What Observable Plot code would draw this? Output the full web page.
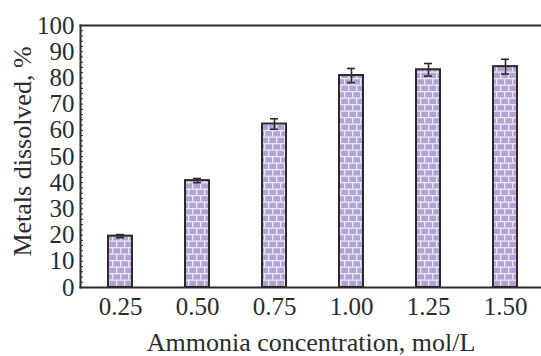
<!DOCTYPE html>
<html>
<head>
<meta charset="utf-8">
<script src="https://cdn.jsdelivr.net/npm/d3@7"></script>
<script src="https://cdn.jsdelivr.net/npm/@observablehq/plot@0.6"></script>
<style>
  html, body { margin: 0; padding: 0; background: #fff; }
  svg text { font-family: "Liberation Serif", "Times New Roman", Times, serif; }
</style>
</head>
<body>
<div id="chart"></div>
<script>
// Ammonia concentration (mol/L) and metals dissolved (%), with error margins
const concentrations = ["0.25", "0.50", "0.75", "1.00", "1.25", "1.50"];
const dissolved = [19.6, 40.8, 62.4, 80.9, 83.1, 84.3];
const errors = [0.6, 0.8, 2.0, 2.7, 2.4, 2.8];
const yTicks = [0, 10, 20, 30, 40, 50, 60, 70, 80, 90, 100];
const yMinorTicks = d3.range(0, 101, 2);

const data = concentrations.map((c, i) => ({conc: c, value: dissolved[i], err: errors[i]}));

const ink = "#2b2b2b";
const font = "Liberation Serif";

const chart = Plot.plot({
  width: 541,
  height: 356,
  marginLeft: 80,
  marginRight: 0,
  marginTop: 25,
  marginBottom: 69,
  style: {fontFamily: font, color: ink, background: "#fff"},
  x: {type: "band", domain: concentrations, range: [51.7, 572.9], padding: 0.69},
  y: {domain: [0, 100], ticks: yTicks},
  marks: [
    Plot.barY(data, {x: "conc", y: "value", fill: "url(#bricks)", stroke: ink, strokeWidth: 2}),
    Plot.ruleX(data, {x: "conc", y1: d => d.value - d.err, y2: d => d.value + d.err, stroke: ink, strokeWidth: 1.6}),
    Plot.tickY(data, {x: "conc", y: d => d.value + d.err, insetLeft: 8, insetRight: 8, stroke: ink, strokeWidth: 1.6}),
    Plot.tickY(data, {x: "conc", y: d => d.value - d.err, insetLeft: 8, insetRight: 8, stroke: ink, strokeWidth: 1.6}),
    // inward minor ticks on the left axis
    Plot.ruleY(yMinorTicks, {insetRight: 458, stroke: ink, strokeWidth: 1}),
    Plot.frame({anchor: "left", stroke: ink, strokeWidth: 2}),
    Plot.frame({anchor: "bottom", stroke: ink, strokeWidth: 2}),
    Plot.frame({anchor: "top", stroke: ink, strokeWidth: 2}),
    Plot.axisY(yTicks, {tickSize: 0, tickPadding: 6, fontSize: 25, fontFamily: font, label: null, fill: ink}),
    Plot.axisX({tickSize: 0, tickPadding: 10, fontSize: 25, fontFamily: font, label: null, fill: ink}),
    Plot.text(["Ammonia concentration, mol/L"], {frameAnchor: "bottom", dy: 63, fontSize: 26, fontFamily: font, fill: ink}),
    Plot.text(["Metals dissolved, %"], {frameAnchor: "left", textAnchor: "middle", rotate: -90, dx: -58, dy: -5, fontSize: 26, fontFamily: font, fill: ink})
  ]
});

// brick fill pattern for the bars
const defs = d3.select(chart).insert("defs", ":first-child");
const pat = defs.append("pattern")
  .attr("id", "bricks")
  .attr("patternUnits", "userSpaceOnUse")
  .attr("width", 16)
  .attr("height", 13);
pat.append("rect").attr("width", 16).attr("height", 13).attr("fill", "#b3a2d4");
const mortar = "#ece6f4";
pat.append("rect").attr("x", 0).attr("y", 0).attr("width", 16).attr("height", 1.3).attr("fill", mortar);
pat.append("rect").attr("x", 0).attr("y", 6.5).attr("width", 16).attr("height", 1.3).attr("fill", mortar);
pat.append("rect").attr("x", 0).attr("y", 0).attr("width", 1.3).attr("height", 6.5).attr("fill", mortar);
pat.append("rect").attr("x", 8).attr("y", 0).attr("width", 1.3).attr("height", 6.5).attr("fill", mortar);
pat.append("rect").attr("x", 4).attr("y", 6.5).attr("width", 1.3).attr("height", 6.5).attr("fill", mortar);
pat.append("rect").attr("x", 12).attr("y", 6.5).attr("width", 1.3).attr("height", 6.5).attr("fill", mortar);

document.getElementById("chart").appendChild(chart);
</script>
</body>
</html>
